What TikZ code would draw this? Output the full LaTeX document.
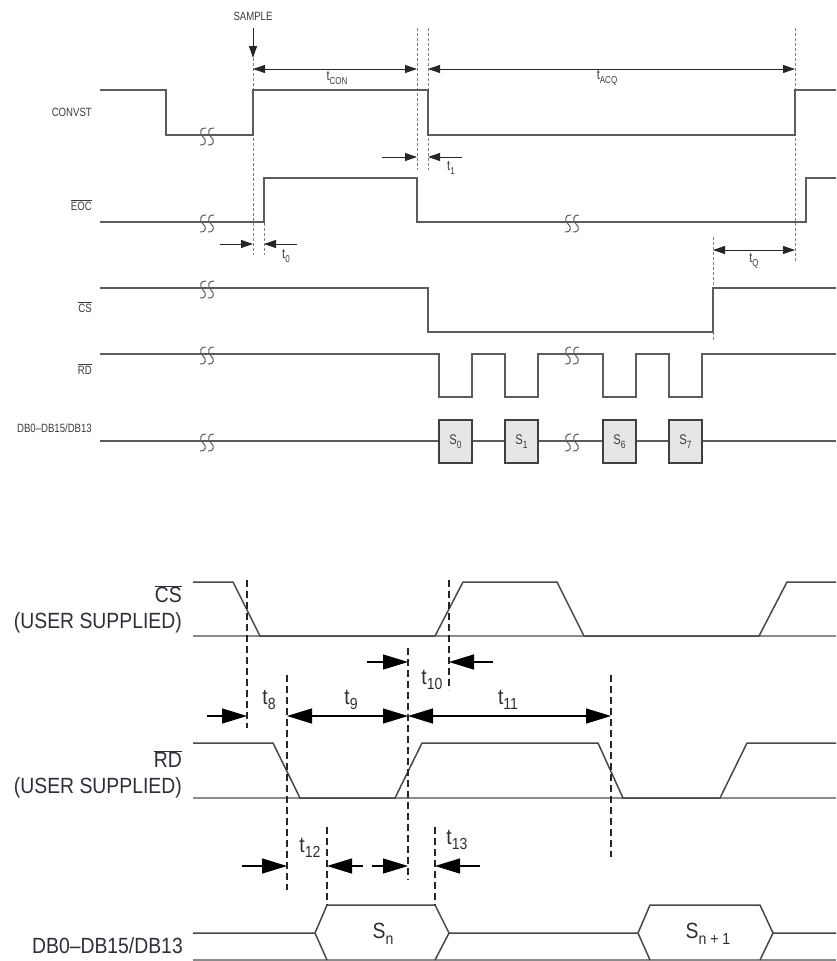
\documentclass[tikz,border=0pt]{standalone}
\usepackage{fontspec}
\setmainfont{Liberation Sans}
\newfontfamily\condA[FakeStretch=0.8]{Liberation Sans}
\newfontfamily\condB[FakeStretch=0.88]{Liberation Sans}
\usetikzlibrary{arrows.meta}
\definecolor{wline}{HTML}{5C5C5C}
\definecolor{dgray}{HTML}{808080}
\definecolor{txtA}{HTML}{3C3C3C}
\definecolor{txtB}{HTML}{2E2E3A}
\definecolor{boxfill}{HTML}{E6E6E6}
\definecolor{bline}{HTML}{484848}
\definecolor{baseg}{HTML}{8A8A8A}
\newcommand\subx[3]{#1\raisebox{-0.25em}{\fontsize{#3}{#3}\selectfont #2}}
\newcommand\ovl[1]{$\overline{\mbox{#1}}$}
\tikzset{
  wtop/.style={draw=wline, line width=1.1pt, line join=miter},
  wbot/.style={draw=bline, line width=1.5pt, line join=miter},
  basel/.style={draw=baseg, line width=2pt},
  brk/.style={draw=wline, line width=1pt},
  dtop/.style={draw=dgray, line width=0.8pt, dash pattern=on 3pt off 2pt},
  dbot/.style={draw=black!85, line width=1.3pt, dash pattern=on 7pt off 4pt},
  atop/.style={draw=black!85, line width=0.9pt, -{Triangle[length=12pt,width=8pt]}},
  atop2/.style={draw=black!85, line width=0.9pt, {Triangle[length=12pt,width=8pt]}-{Triangle[length=12pt,width=8pt]}},
  abot/.style={draw=black, line width=1.2pt, -{Triangle[length=25pt,width=15pt]}},
  abot2/.style={draw=black, line width=1.2pt, {Triangle[length=25pt,width=15pt]}-{Triangle[length=25pt,width=15pt]}},
  lt/.style={font=\condA\fontsize{12}{12}\selectfont, text=txtA, inner sep=0pt},
  ltt/.style={font=\condA\fontsize{14}{14}\selectfont, text=txtA, inner sep=0pt},
  lb/.style={font=\condB\fontsize{22}{22}\selectfont, text=txtB, inner sep=0pt},
  sbox/.style={draw=black!75, fill=boxfill, line width=1.1pt, minimum width=33pt, minimum height=43pt, inner sep=0pt, font=\condA\fontsize{14}{14}\selectfont, text=txtA}
}
\begin{document}
\begin{tikzpicture}[x=1pt,y=-1pt]
\useasboundingbox (0,0) rectangle (836,961);
% ---------------- TOP DIAGRAM ----------------
% dashed guides
\draw[dtop] (253,58) -- (253,255);
\draw[dtop] (417,28) -- (417,170);
\draw[dtop] (428,28) -- (428,170);
\draw[dtop] (795,28) -- (795,263);
\draw[dtop] (264,178) -- (264,255);
\draw[dtop] (713,237) -- (713,342);
% waveforms
\draw[wtop] (100,90) -- (166,90) -- (166,135) -- (253,135) -- (253,90) -- (428,90) -- (428,135) -- (795,135) -- (795,90) -- (836,90);
\draw[wtop] (100,222) -- (264,222) -- (264,178) -- (417,178) -- (417,222) -- (806,222) -- (806,178) -- (836,178);
\draw[wtop] (100,288) -- (428,288) -- (428,332) -- (713,332) -- (713,288) -- (836,288);
\draw[wtop] (100,354) -- (439,354) -- (439,397) -- (472,397) -- (472,354) -- (505,354) -- (505,397) -- (538,397) -- (538,354) -- (603,354) -- (603,397) -- (636,397) -- (636,354) -- (669,354) -- (669,397) -- (702,397) -- (702,354) -- (836,354);
\draw[wtop] (100,441) -- (836,441);
% data boxes
\node[sbox] (s0) at (455.5,441.5) {\subx{S}{0}{10.5}};
\node[sbox] (s1) at (521.5,441.5) {\subx{S}{1}{10.5}};
\node[sbox] (s6) at (619.5,441.5) {\subx{S}{6}{10.5}};
\node[sbox] (s7) at (685.5,441.5) {\subx{S}{7}{10.5}};
% break marks (two S-shaped squiggles)
\foreach \bx/\by in {207/135, 207/222, 572/222, 207/288, 207/354, 572/354, 207/441, 572/441}{
  \foreach \dx in {-4,4}{
    \draw[brk] (\bx+\dx+3,\by-7) .. controls (\bx+\dx-3,\by-8) and (\bx+\dx-4,\by-1) .. (\bx+\dx,\by+2)
                                 .. controls (\bx+\dx+4,\by+5) and (\bx+\dx+3,\by+11) .. (\bx+\dx-3,\by+10);
  }
}
% arrows
\coordinate (smpT) at (253,28);
\coordinate (smpB) at (253,58);
\draw[atop] (smpT) -- (smpB);
\coordinate (tconA) at (253,69); \coordinate (tconB) at (417,69);
\draw[atop2] (tconA) -- (tconB);
\coordinate (tacqA) at (428,69); \coordinate (tacqB) at (795,69);
\draw[atop2] (tacqA) -- (tacqB);
\coordinate (t1a) at (382,157); \coordinate (t1b) at (417,157);
\coordinate (t1c) at (462,157); \coordinate (t1d) at (428,157);
\draw[atop] (t1a) -- (t1b);
\draw[atop] (t1c) -- (t1d);
\coordinate (t0a) at (220,244); \coordinate (t0b) at (253,244);
\coordinate (t0c) at (297,244); \coordinate (t0d) at (264,244);
\draw[atop] (t0a) -- (t0b);
\draw[atop] (t0c) -- (t0d);
\coordinate (tqa) at (713,250); \coordinate (tqb) at (795,250);
\draw[atop2] (tqa) -- (tqb);
% labels
\node[lt] (sample) at (253,16) {SAMPLE};
\node[lt, anchor=east] (lconvst) at (92,112) {CONVST};
\node[lt, anchor=east] (leoc) at (92,205) {\ovl{EOC}};
\node[lt, anchor=east] (lcs) at (92,307) {\ovl{CS}};
\node[lt, anchor=east] (lrd) at (92,369) {\ovl{RD}};
\node[lt, anchor=east] (ldb) at (92,428) {DB0–DB15/DB13};
\node[ltt] (ltcon) at (337,78) {\subx{t}{CON}{10}};
\node[ltt] (ltacq) at (607,78) {\subx{t}{ACQ}{10}};
\node[ltt] (lt1) at (451,168) {\subx{t}{1}{10}};
\node[ltt] (lt0) at (286,256) {\subx{t}{0}{10}};
\node[ltt] (ltq) at (754,261) {\subx{t}{Q}{10}};
% ---------------- BOTTOM DIAGRAM ----------------
% baselines
\draw[basel] (193,636) -- (836,636);
\draw[basel] (193,798) -- (836,798);
\draw[basel] (193,960) -- (836,960);
% waveforms
\draw[wbot] (193,582) -- (233,582) -- (260,636) -- (435,636) -- (463,582) -- (557,582) -- (584,636) -- (759,636) -- (787,582) -- (836,582);
\draw[wbot] (193,743) -- (273,743) -- (300,798) -- (395,798) -- (422,743) -- (598,743) -- (623,798) -- (720,798) -- (747,743) -- (836,743);
\draw[wbot] (193,933) -- (315,933) -- (327,905) -- (435,905) -- (449,933) -- (638,933) -- (650,905) -- (760,905) -- (773,933) -- (836,933);
\draw[wbot] (315,933) -- (327,960);
\draw[wbot] (435,960) -- (449,933);
\draw[wbot] (638,933) -- (650,960);
\draw[wbot] (760,960) -- (773,933);
% dashed guides
\draw[dbot] (247,580) -- (247,728);
\draw[dbot] (287,675) -- (287,890);
\draw[dbot] (408,648) -- (408,880);
\draw[dbot] (449,580) -- (449,690);
\draw[dbot] (611,675) -- (611,857);
\draw[dbot] (327,827) -- (327,905);
\draw[dbot] (435,827) -- (435,905);
% arrows
\coordinate (a10a) at (367,662); \coordinate (a10b) at (408,662);
\coordinate (a10c) at (493,662); \coordinate (a10d) at (449,662);
\draw[abot] (a10a) -- (a10b);
\draw[abot] (a10c) -- (a10d);
\coordinate (a8a) at (207,716); \coordinate (a8b) at (247,716);
\draw[abot] (a8a) -- (a8b);
\coordinate (a9a) at (287,716); \coordinate (a9b) at (408,716);
\draw[abot2] (a9a) -- (a9b);
\coordinate (a11a) at (408,716); \coordinate (a11b) at (611,716);
\draw[abot2] (a11a) -- (a11b);
\coordinate (a12a) at (242,866); \coordinate (a12b) at (287,866);
\coordinate (a12c) at (363,866); \coordinate (a12d) at (327,866);
\draw[abot] (a12a) -- (a12b);
\draw[abot] (a12c) -- (a12d);
\coordinate (a13a) at (372,866); \coordinate (a13b) at (408,866);
\coordinate (a13c) at (480,866); \coordinate (a13d) at (435,866);
\draw[abot] (a13a) -- (a13b);
\draw[abot] (a13c) -- (a13d);
% labels
\node[lb, anchor=east] (bcs) at (182,594) {\ovl{CS}};
\node[lb, anchor=east] (bus1) at (182,623) {(USER SUPPLIED)};
\node[lb, anchor=east] (brd) at (182,759) {\ovl{RD}};
\node[lb, anchor=east] (bus2) at (182,788) {(USER SUPPLIED)};
\node[lb, anchor=east] (bdb) at (183,946) {DB0–DB15/DB13};
\node[lb] (lt8) at (269,700) {\subx{t}{8}{16}};
\node[lb] (lt9) at (351,700) {\subx{t}{9}{16}};
\node[lb] (lt10) at (432,680) {\subx{t}{10}{16}};
\node[lb] (lt11) at (508,700) {\subx{t}{11}{16}};
\node[lb] (lt12) at (310,848) {\subx{t}{12}{16}};
\node[lb] (lt13) at (457,840) {\subx{t}{13}{16}};
\node[lb] (lsn) at (383,934) {\subx{S}{n}{16}};
\node[lb] (lsn1) at (708,934) {\subx{S}{n + 1}{16}};
\end{tikzpicture}
\end{document}
